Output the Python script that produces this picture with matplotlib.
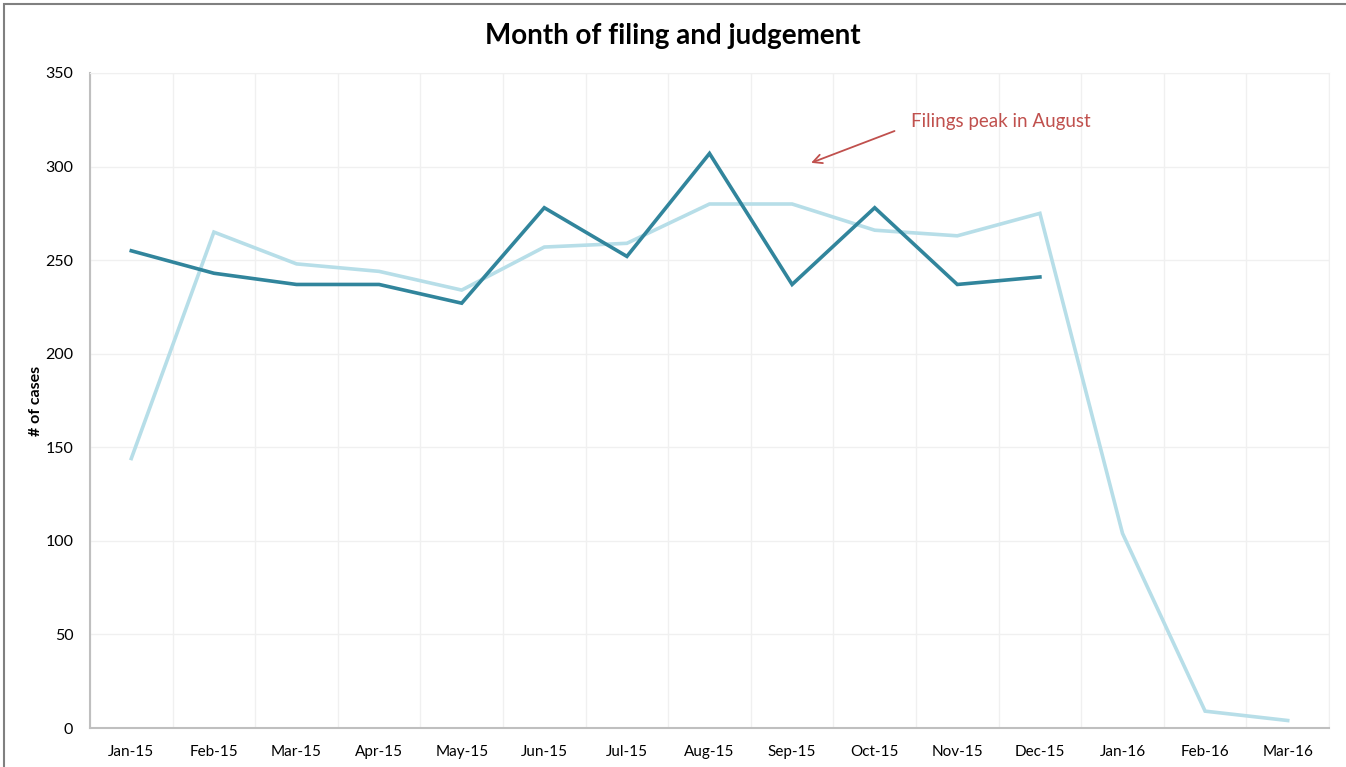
import numpy as np
import matplotlib
matplotlib.use('Agg')
import matplotlib.pyplot as plt
from matplotlib.patches import Rectangle

plt.rcParams['font.family'] = ['Lato', 'DejaVu Sans']

months = ['Jan-15', 'Feb-15', 'Mar-15', 'Apr-15', 'May-15', 'Jun-15', 'Jul-15', 'Aug-15',
          'Sep-15', 'Oct-15', 'Nov-15', 'Dec-15', 'Jan-16', 'Feb-16', 'Mar-16']
# dark line: filings (Jan-15 .. Dec-15)
filings = [255, 243, 237, 237, 227, 278, 252, 307, 237, 278, 237, 241]
# light line: judgements (Jan-15 .. Mar-16)
judgements = [144, 265, 248, 244, 234, 257, 259, 280, 280, 266, 263, 275, 104, 9, 4]

yticks = [0, 50, 100, 150, 200, 250, 300, 350]

fig = plt.figure(figsize=(13.46, 7.67), dpi=100)
ax = fig.add_axes([90/1346, 1 - 728/767, (1329-90)/1346, (728-73)/767])

x = np.arange(len(months))
ax.plot(x, judgements, color='#b7dee8', linewidth=2.6, solid_joinstyle='miter')
ax.plot(x[:len(filings)], filings, color='#31859c', linewidth=2.6, solid_joinstyle='miter')

ax.set_xlim(-0.5, len(months) - 0.5)
ax.set_ylim(0, 350)
ax.set_yticks(yticks)
ax.set_xticks(x)
ax.set_xticklabels(months, fontsize=11)
ax.tick_params(axis='y', labelsize=11.5, length=0, pad=12)
ax.tick_params(axis='x', length=0, pad=12)

# gridlines: vertical lines between categories, horizontal at each tick
ax.set_xticks(np.arange(-0.5, len(months), 1.0), minor=True)
ax.grid(True, which='minor', axis='x', color='#f0f0f0', linewidth=1)
ax.grid(True, which='major', axis='y', color='#f0f0f0', linewidth=1)
ax.tick_params(which='minor', length=0)
ax.set_axisbelow(True)

for s in ['top', 'right']:
    ax.spines[s].set_color('#f0f0f0')
ax.spines['left'].set_color('#bfbfbf')
ax.spines['bottom'].set_color('#bfbfbf')
ax.spines['left'].set_linewidth(1.5)
ax.spines['bottom'].set_linewidth(1.5)

ax.set_ylabel('# of cases', fontsize=11.5, fontweight='bold')
ax.yaxis.set_label_coords((43 - 90) / 1239, 0.5)

fig.text(0.5, 1 - 36/767, 'Month of filing and judgement', ha='center', va='center',
         fontsize=20, fontweight='bold')

# annotation: arrow and text
ax.annotate('', xy=(8.23, 302), xytext=(9.24, 319),
            arrowprops=dict(arrowstyle='->', color='#c0504d', lw=1.3,
                            shrinkA=0, shrinkB=0, mutation_scale=16))
ax.text(9.44, 324, 'Filings peak in August', fontsize=13.5, color='#c0504d',
        va='center', ha='left')

# outer chart border (top and left visible)
fig.patches.append(Rectangle((4/1346, -0.05), 1.1, 1 - 4/767 + 0.05, transform=fig.transFigure,
                             fill=False, edgecolor='#808080', linewidth=1.5))

fig.savefig('out.png', dpi=100)
